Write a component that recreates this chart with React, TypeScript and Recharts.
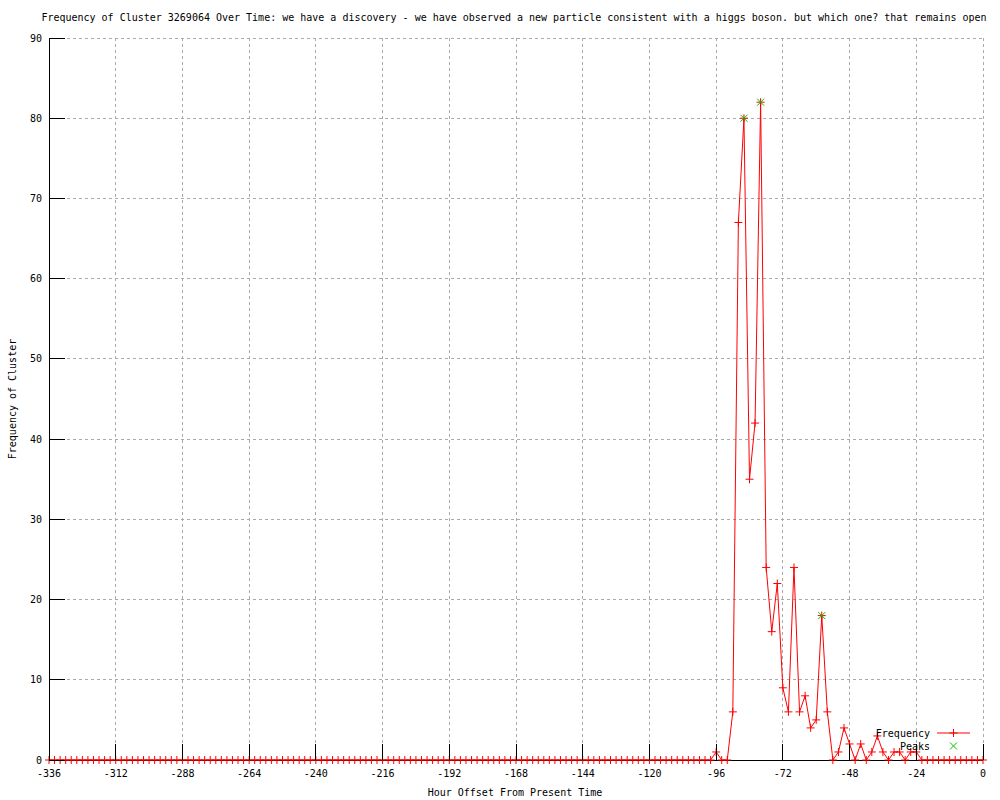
import { ComposedChart, Line, Scatter, XAxis, YAxis, CartesianGrid } from "recharts";

const TITLE =
  "Frequency of Cluster 3269064 Over Time: we have a discovery - we have observed a new particle consistent with a higgs boson. but which one? that remains open";
const X_LABEL = "Hour Offset From Present Time";
const Y_LABEL = "Frequency of Cluster";

// hours, every 2h from -336 to 0
const hours = [
  -336, -334, -332, -330, -328, -326, -324, -322, -320, -318, -316, -314, -312, -310, -308, -306, -304, -302,
  -300, -298, -296, -294, -292, -290, -288, -286, -284, -282, -280, -278, -276, -274, -272, -270, -268, -266,
  -264, -262, -260, -258, -256, -254, -252, -250, -248, -246, -244, -242, -240, -238, -236, -234, -232, -230,
  -228, -226, -224, -222, -220, -218, -216, -214, -212, -210, -208, -206, -204, -202, -200, -198, -196, -194,
  -192, -190, -188, -186, -184, -182, -180, -178, -176, -174, -172, -170, -168, -166, -164, -162, -160, -158,
  -156, -154, -152, -150, -148, -146, -144, -142, -140, -138, -136, -134, -132, -130, -128, -126, -124, -122,
  -120, -118, -116, -114, -112, -110, -108, -106, -104, -102, -100, -98, -96, -94, -92, -90, -88, -86, -84,
  -82, -80, -78, -76, -74, -72, -70, -68, -66, -64, -62, -60, -58, -56, -54, -52, -50, -48, -46, -44, -42,
  -40, -38, -36, -34, -32, -30, -28, -26, -24, -22, -20, -18, -16, -14, -12, -10, -8, -6, -4, -2, 0,
];

const frequency = [
  0, 0, 0, 0, 0, 0, 0, 0, 0, 0, 0, 0, 0, 0, 0, 0, 0, 0,
  0, 0, 0, 0, 0, 0, 0, 0, 0, 0, 0, 0, 0, 0, 0, 0, 0, 0,
  0, 0, 0, 0, 0, 0, 0, 0, 0, 0, 0, 0, 0, 0, 0, 0, 0, 0,
  0, 0, 0, 0, 0, 0, 0, 0, 0, 0, 0, 0, 0, 0, 0, 0, 0, 0,
  0, 0, 0, 0, 0, 0, 0, 0, 0, 0, 0, 0, 0, 0, 0, 0, 0, 0,
  0, 0, 0, 0, 0, 0, 0, 0, 0, 0, 0, 0, 0, 0, 0, 0, 0, 0,
  0, 0, 0, 0, 0, 0, 0, 0, 0, 0, 0, 0, 1, 0, 0, 6, 67, 80, 35,
  42, 82, 24, 16, 22, 9, 6, 24, 6, 8, 4, 5, 18, 6, 0, 1, 4, 2, 0, 2, 0,
  1, 3, 1, 0, 1, 1, 0, 1, 1, 0, 0, 0, 0, 0, 0, 0, 0, 0, 0, 0, 0,
];

const peakHours = [-86, -80, -58];
const peakValues = [80, 82, 18];

const xTicks = [-336, -312, -288, -264, -240, -216, -192, -168, -144, -120, -96, -72, -48, -24, 0];
const yTicks = [0, 10, 20, 30, 40, 50, 60, 70, 80, 90];

const data = hours.map((h, i) => ({ hour: h, freq: frequency[i] }));
const peaks = peakHours.map((h, i) => ({ hour: h, peak: peakValues[i] }));

const FONT = "'DejaVu Sans Mono', monospace";
const TICK_LEN = 16;

const BottomTick = ({ x, y, payload }: any) => (
  <g>
    <line x1={x} y1={y} x2={x} y2={y - TICK_LEN} stroke="#000" shapeRendering="crispEdges" />
    <text x={x} y={y + 13} textAnchor="middle" dominantBaseline="central" fontFamily={FONT} fontSize={10} fill="#000">
      {payload.value}
    </text>
  </g>
);

const TopTick = ({ x, y }: any) => (
  <line x1={x} y1={y} x2={x} y2={y + TICK_LEN} stroke="#000" shapeRendering="crispEdges" />
);

const LeftTick = ({ x, y, payload }: any) => (
  <g>
    <line x1={x} y1={y} x2={x + TICK_LEN} y2={y} stroke="#000" shapeRendering="crispEdges" />
    <text x={x - 7} y={y} textAnchor="end" dominantBaseline="central" fontFamily={FONT} fontSize={10} fill="#000">
      {payload.value}
    </text>
  </g>
);

const RightTick = ({ x, y }: any) => (
  <line x1={x} y1={y} x2={x - TICK_LEN} y2={y} stroke="#000" shapeRendering="crispEdges" />
);

const PlusDot = (props: any) => {
  const { cx, cy, index } = props;
  if (cx == null || cy == null) return <g key={`p-${index}`} />;
  return (
    <path
      key={`p-${index}`}
      d={`M${cx - 4},${cy}H${cx + 4}M${cx},${cy - 4}V${cy + 4}`}
      stroke="#ff0000"
      strokeWidth={1}
      fill="none"
    />
  );
};

const CrossShape = (props: any) => {
  const { cx, cy } = props;
  return (
    <path
      d={`M${cx - 3.5},${cy - 3.5}L${cx + 3.5},${cy + 3.5}M${cx - 3.5},${cy + 3.5}L${cx + 3.5},${cy - 3.5}`}
      stroke="#00c000"
      strokeWidth={1}
      fill="none"
    />
  );
};

const axisLineStyle = { stroke: "#000", shapeRendering: "crispEdges" } as any;

const App = () => {
  return (
    <div style={{ position: "absolute", left: 0, top: 0, width: 1000, height: 800, background: "#fff", fontFamily: FONT }}>
      <ComposedChart width={1000} height={800} data={data} margin={{ top: 38, right: 17, bottom: 0, left: 0 }}>
        <CartesianGrid
          stroke="#aaaaaa"
          strokeDasharray="3 3"
          shapeRendering="crispEdges"
          xAxisId="b"
          yAxisId="l"
          verticalValues={xTicks}
          horizontalValues={yTicks}
        />
        <XAxis
          xAxisId="b"
          dataKey="hour"
          type="number"
          domain={[-336, 0]}
          ticks={xTicks}
          interval={0}
          height={40}
          tickSize={0}
          tickMargin={0}
          tickLine={false}
          axisLine={axisLineStyle}
          tick={<BottomTick />}
        />
        <XAxis
          xAxisId="t"
          orientation="top"
          dataKey="hour"
          type="number"
          domain={[-336, 0]}
          ticks={xTicks}
          interval={0}
          height={0}
          tickSize={0}
          tickMargin={0}
          tickLine={false}
          axisLine={axisLineStyle}
          tick={<TopTick />}
        />
        <YAxis
          yAxisId="l"
          type="number"
          domain={[0, 90]}
          ticks={yTicks}
          interval={0}
          width={49}
          tickSize={0}
          tickMargin={0}
          tickLine={false}
          axisLine={axisLineStyle}
          tick={<LeftTick />}
        />
        <YAxis
          yAxisId="r"
          orientation="right"
          type="number"
          domain={[0, 90]}
          ticks={yTicks}
          interval={0}
          width={0}
          tickSize={0}
          tickMargin={0}
          tickLine={false}
          axisLine={axisLineStyle}
          tick={<RightTick />}
        />
        <Line
          xAxisId="b"
          yAxisId="l"
          type="linear"
          dataKey="freq"
          stroke="#ff0000"
          strokeWidth={1}
          dot={PlusDot}
          activeDot={false}
          isAnimationActive={false}
        />
        <Scatter
          xAxisId="b"
          yAxisId="l"
          data={peaks}
          dataKey="peak"
          shape={<CrossShape />}
          isAnimationActive={false}
        />
      </ComposedChart>

      <div style={{ position: "absolute", left: 0, width: 1028, top: 11, textAlign: "center", fontSize: 10, lineHeight: "14px", whiteSpace: "nowrap" }}>
        {TITLE}
      </div>
      <div style={{ position: "absolute", left: 0, width: 1030, top: 786, textAlign: "center", fontSize: 10, lineHeight: "14px" }}>
        {X_LABEL}
      </div>
      <div
        style={{
          position: "absolute",
          left: 13 - 100,
          top: 399 - 7,
          width: 200,
          textAlign: "center",
          fontSize: 10,
          lineHeight: "14px",
          transform: "rotate(-90deg)",
        }}
      >
        {Y_LABEL}
      </div>

      <svg style={{ position: "absolute", left: 0, top: 0, pointerEvents: "none" }} width={1000} height={800}>
        <text x={930} y={733} textAnchor="end" dominantBaseline="central" fontFamily={FONT} fontSize={10} fill="#000">
          Frequency
        </text>
        <line x1={937} y1={733} x2={970} y2={733} stroke="#ff0000" />
        <path d="M949.5,733H957.5M953.5,729V737" stroke="#ff0000" fill="none" />
        <text x={930} y={746} textAnchor="end" dominantBaseline="central" fontFamily={FONT} fontSize={10} fill="#000">
          Peaks
        </text>
        <path d="M950,742.5L957,749.5M950,749.5L957,742.5" stroke="#00c000" fill="none" />
      </svg>
    </div>
  );
};

export default App;
